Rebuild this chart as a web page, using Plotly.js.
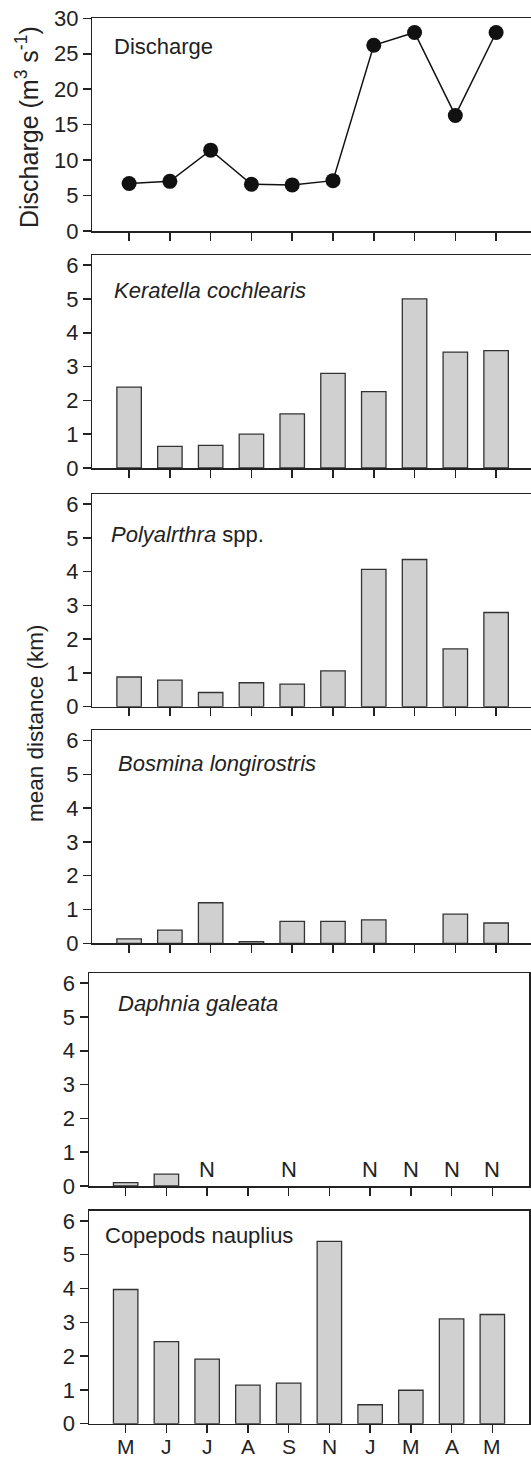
<!DOCTYPE html>
<html>
<head>
<meta charset="utf-8">
<script src="https://cdn.plot.ly/plotly-3.0.1.min.js"></script>
<style>
html,body{margin:0;padding:0;overflow:hidden;background:#fff;}
#chart{width:534px;height:1460px;}
</style>
</head>
<body>
<div id="chart"></div>
<script>
// ---- data ----
const months = ['M','J','J','A','S','N','J','M','A','M'];
const discharge = [6.7, 7.0, 11.4, 6.6, 6.5, 7.1, 26.2, 28.0, 16.3, 28.0];
const keratella = [2.39, 0.64, 0.67, 1.00, 1.60, 2.80, 2.26, 5.00, 3.43, 3.47];
const polyarthra = [0.88, 0.79, 0.42, 0.71, 0.67, 1.06, 4.07, 4.36, 1.71, 2.79];
const bosmina = [0.13, 0.39, 1.20, 0.05, 0.65, 0.65, 0.69, 0, 0.86, 0.60];
const daphnia = [0.10, 0.35, 0, 0, 0, 0, 0, 0, 0, 0];
const daphniaAbsent = [false, false, true, false, true, false, true, true, true, true];
const copepods = [3.97, 2.43, 1.91, 1.14, 1.20, 5.39, 0.56, 0.99, 3.10, 3.23];
const panelNames = ['Discharge', '<i>Keratella cochlearis</i>', '<i>Polyalrthra</i> spp.',
  '<i>Bosmina longirostris</i>', '<i>Daphnia galeata</i>', 'Copepods nauplius'];
const missingMark = 'N';

// ---- layout geometry (pixels) ----
const W = 534, H = 1460;
const FONT = '"Liberation Sans", Arial, Helvetica, sans-serif';
const INK = '#222';
const panels = [
  {l: 92.4, r: 532.8, t: 18.3, b: 231},
  {l: 92.4, r: 532.8, t: 255, b: 468},
  {l: 92.4, r: 532.8, t: 494, b: 706.7},
  {l: 92.4, r: 532.8, t: 730.3, b: 943.3},
  {l: 89, r: 529, t: 973, b: 1186},
  {l: 89, r: 529, t: 1210.7, b: 1423.7}
];
const labelPos = [
  {x: 112, y: 46}, {x: 112, y: 290}, {x: 109, y: 534},
  {x: 116, y: 764}, {x: 116, y: 1003}, {x: 103, y: 1235}
];
const px = v => v / W;
const py = v => 1 - v / H;

const idx = months.map((m, i) => i);
const layout = {
  width: W, height: H,
  margin: {l: 0, r: 0, t: 0, b: 0},
  paper_bgcolor: '#fff', plot_bgcolor: '#fff',
  showlegend: false,
  font: {family: FONT, color: INK, size: 22},
  annotations: [],
  hovermode: false
};

panels.forEach((p, k) => {
  const n = k + 1;
  const xa = 'xaxis' + (n === 1 ? '' : n);
  const ya = 'yaxis' + (n === 1 ? '' : n);
  layout[xa] = {
    domain: [px(p.l), px(p.r)],
    anchor: 'y' + (n === 1 ? '' : n),
    range: [-0.9, 9.9],
    tickmode: 'array', tickvals: idx, ticktext: months,
    showticklabels: false,
    ticks: 'outside', ticklen: 8, tickwidth: 1.5, tickcolor: INK,
    showline: true, linecolor: INK, linewidth: 1.5, mirror: true,
    showgrid: false, zeroline: false, fixedrange: true
  };
  layout[ya] = {
    domain: [py(p.b), py(p.t)],
    anchor: 'x' + (n === 1 ? '' : n),
    range: n === 1 ? [0, 30] : [0, 6.3],
    tickmode: 'linear', tick0: 0, dtick: n === 1 ? 5 : 1,
    ticks: 'outside', ticklen: 8, tickwidth: 1.5, tickcolor: INK,
    showline: true, linecolor: INK, linewidth: 1.5, mirror: true,
    showgrid: false, zeroline: false, fixedrange: true,
    tickfont: {family: FONT, size: 22, color: INK}
  };
  layout.annotations.push({
    xref: 'paper', yref: 'paper', x: px(labelPos[k].x), y: py(labelPos[k].y),
    xanchor: 'left', yanchor: 'middle', showarrow: false,
    text: panelNames[k], font: {family: FONT, size: 22, color: INK}
  });
});

// month labels under the bottom panel (placed on the x6 scale)
months.forEach((m, i) => {
  layout.annotations.push({
    xref: 'x6', yref: 'paper', x: i, y: 0, xanchor: 'center', yanchor: 'bottom',
    showarrow: false, text: m, font: {family: FONT, size: 21, color: INK}
  });
});

// y titles
layout.annotations.push({
  xref: 'paper', yref: 'paper', x: px(27), y: py(127),
  xanchor: 'center', yanchor: 'middle', showarrow: false, textangle: -90,
  text: 'Discharge (m<sup>3</sup> s<sup>-1</sup>)', font: {family: FONT, size: 25, color: INK}
});
layout.annotations.push({
  xref: 'paper', yref: 'paper', x: px(35), y: py(723),
  xanchor: 'center', yanchor: 'middle', showarrow: false, textangle: -90,
  text: 'mean distance (km)', font: {family: FONT, size: 22.5, color: INK}
});

// N marks where Daphnia was absent
daphniaAbsent.forEach((a, i) => {
  if (a) {
    layout.annotations.push({
      xref: 'x5', yref: 'y5', x: i, y: 0.49, xanchor: 'center', yanchor: 'middle',
      showarrow: false, text: missingMark, font: {family: FONT, size: 22, color: INK}
    });
  }
});

function barTrace(vals, n) {
  return {
    x: idx, y: vals, type: 'bar', xaxis: 'x' + n, yaxis: 'y' + n, width: 0.6,
    marker: {color: '#d0d0d0',
             line: {color: '#333', width: vals.map(v => v > 0 ? 1.3 : 0)}}
  };
}
const traces = [
  {x: idx, y: discharge, type: 'scatter', mode: 'lines+markers', xaxis: 'x', yaxis: 'y',
   line: {color: '#111', width: 1.5}, marker: {color: '#111', size: 15}, cliponaxis: false},
  barTrace(keratella, 2),
  barTrace(polyarthra, 3),
  barTrace(bosmina, 4),
  barTrace(daphnia, 5),
  barTrace(copepods, 6)
];

Plotly.newPlot('chart', traces, layout, {displayModeBar: false, staticPlot: true});
</script>
</body>
</html>
